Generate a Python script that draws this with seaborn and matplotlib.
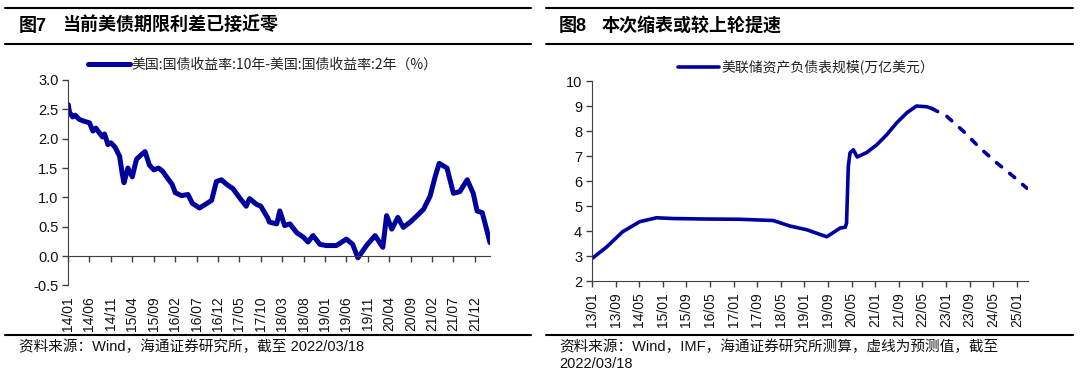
import pandas as pd
import matplotlib
matplotlib.use("Agg")
import matplotlib.pyplot as plt
import matplotlib.ticker as mticker
from matplotlib.lines import Line2D
import seaborn as sns

# ---- data ----

# Fig 7: US 10y - 2y treasury spread (%)
spread_dates = [
    "2014-01-01", "2014-01-10", "2014-02-01", "2014-02-20", "2014-03-19", "2014-04-20",
    "2014-06-01", "2014-06-25", "2014-07-16", "2014-08-10", "2014-09-01",
    "2014-09-16", "2014-10-10", "2014-11-01", "2014-12-01", "2015-01-01", "2015-01-20",
    "2015-02-01", "2015-03-01",
    "2015-04-01", "2015-05-01", "2015-06-01", "2015-07-01", "2015-08-01", "2015-09-01",
    "2015-10-05", "2015-11-01", "2015-12-16", "2016-01-10", "2016-02-01", "2016-03-16",
    "2016-05-01", "2016-06-01",
    "2016-07-22", "2016-09-01", "2016-10-16", "2016-11-19", "2016-12-25", "2017-02-01",
    "2017-03-16", "2017-05-01", "2017-06-19", "2017-07-13", "2017-09-01", "2017-10-01",
    "2017-11-19", "2017-12-01", "2018-01-22", "2018-02-13", "2018-03-19", "2018-04-25",
    "2018-06-13", "2018-08-01", "2018-09-01", "2018-10-07", "2018-11-25", "2019-01-10",
    "2019-03-22", "2019-06-01", "2019-07-16", "2019-08-22", "2019-10-22", "2019-12-22",
    "2020-02-15", "2020-03-13", "2020-04-19", "2020-06-01", "2020-07-10", "2020-08-28",
    "2020-10-16", "2020-12-01", "2021-01-16", "2021-02-22", "2021-03-22", "2021-05-16",
    "2021-07-01", "2021-08-16", "2021-10-07", "2021-11-19", "2021-12-16", "2022-01-22",
    "2022-02-28", "2022-03-18",
]
spread_values = [
    2.58, 2.45, 2.37, 2.40, 2.33, 2.30,
    2.27, 2.13, 2.18, 2.10, 2.03,
    2.08, 1.90, 1.93, 1.85, 1.70, 1.40,
    1.25, 1.50,
    1.35, 1.65, 1.72, 1.78, 1.55, 1.47,
    1.50, 1.45, 1.30, 1.22, 1.08, 1.03,
    1.05, 0.90,
    0.82, 0.88, 0.95, 1.27, 1.30, 1.22,
    1.15, 1.00, 0.85, 0.98, 0.88, 0.85,
    0.65, 0.58, 0.55, 0.77, 0.52, 0.55,
    0.40, 0.32, 0.24, 0.35, 0.20, 0.18,
    0.18, 0.29, 0.20, -0.03, 0.18, 0.35,
    0.15, 0.69, 0.46, 0.66, 0.49, 0.58,
    0.69, 0.80, 1.02, 1.36, 1.58, 1.50,
    1.07, 1.10, 1.30, 1.07, 0.77, 0.74,
    0.40, 0.23,
]
spread_ticks = ["14/01", "14/06", "14/11", "15/04", "15/09", "16/02", "16/07", "16/12",
                "17/05", "17/10", "18/03", "18/08", "19/01", "19/06", "19/11", "20/04",
                "20/09", "21/02", "21/07", "21/12"]

# Fig 8: Fed balance sheet (trillion USD), actual + forecast
fed_dates = [
    "2013-01-01", "2013-06-01", "2013-11-13", "2014-05-07", "2014-10-28", "2015-04-13",
    "2016-03-19", "2017-03-07", "2018-02-13", "2018-08-04", "2019-01-25", "2019-08-19",
    "2019-10-10", "2020-01-04", "2020-02-25", "2020-03-10", "2020-03-28", "2020-04-15",
    "2020-05-19", "2020-06-28", "2020-10-04", "2021-01-16", "2021-04-28", "2021-08-10",
    "2021-11-22", "2022-03-01", "2022-06-16", "2022-08-07",
]
fed_values = [
    2.90, 3.36, 3.97, 4.37, 4.53, 4.50,
    4.48, 4.47, 4.42, 4.20, 4.05, 3.77,
    3.90, 4.12, 4.15, 4.31, 6.58, 7.13,
    7.25, 6.96, 7.14, 7.45, 7.85, 8.33,
    8.73, 9.00, 8.97, 8.90,
]
fcst_dates = ["2022-08-07", "2023-01-07", "2023-06-28", "2023-12-16", "2024-06-07",
              "2024-11-25", "2025-04-13"]
fcst_values = [8.90, 8.59, 7.99, 7.32, 6.72, 6.18, 5.71]
fed_ticks = ["13/01", "13/09", "14/05", "15/01", "15/09", "16/05", "17/01", "17/09",
             "18/05", "19/01", "19/09", "20/05", "21/01", "21/09", "22/05", "23/01",
             "23/09", "24/05", "25/01"]

NAVY = "#00009C"
AXC = "#404040"

sns.set_style("ticks")
plt.rcParams["font.family"] = ["Liberation Sans", "Noto Sans CJK SC"]
plt.rcParams["axes.edgecolor"] = AXC
plt.rcParams["xtick.color"] = AXC
plt.rcParams["ytick.color"] = AXC
plt.rcParams["xtick.labelcolor"] = "#111111"
plt.rcParams["ytick.labelcolor"] = "#111111"

fig = plt.figure(figsize=(10.8, 3.73), dpi=100)

def to_dt(labels):
    return pd.to_datetime(["20" + s for s in labels], format="%Y/%m")

# ---- left chart ----
ax1 = fig.add_axes([0.0632, 0.2346, 0.3905, 0.551])
sns.lineplot(x=pd.to_datetime(spread_dates), y=spread_values, ax=ax1, color=NAVY,
             lw=3.6, label="美国:国债收益率:10年-美国:国债收益率:2年（%）")
# x axis line sits on y=0 (set before the tick labels, it resets the ticks)
ax1.spines["bottom"].set_position(("data", 0))
ax1.spines["top"].set_visible(False)
ax1.spines["right"].set_visible(False)
ax1.set_ylim(-0.5, 3.0)
ax1.set_xlim(pd.Timestamp("2014-01-01"), pd.Timestamp("2022-03-18"))
ax1.yaxis.set_major_locator(mticker.MultipleLocator(0.5))
ax1.yaxis.set_major_formatter(mticker.FormatStrFormatter("%.1f"))
ax1.set_xticks(to_dt(spread_ticks))
ax1.set_xticklabels(spread_ticks, rotation=90)
ax1.tick_params(axis="x", direction="out", length=4, width=1, pad=25, labelsize=10)
ax1.tick_params(axis="y", direction="out", length=4, width=1, pad=3, labelsize=10.5)
ax1.set_xlabel("")
ax1.set_ylabel("")
ax1.legend(loc="center", bbox_to_anchor=(263 / 1080, 0.826), bbox_transform=fig.transFigure,
           frameon=False, handlelength=3.0, handletextpad=0.15,
           labelcolor="#222222", prop={"family": ["Noto Sans CJK SC"], "size": 10})

# ---- right chart ----
ax2 = fig.add_axes([0.5481, 0.2466, 0.4034, 0.5362])
sns.lineplot(x=pd.to_datetime(fed_dates), y=fed_values, ax=ax2, color=NAVY, lw=2.6,
             label="美联储资产负债表规模(万亿美元）")
sns.lineplot(x=pd.to_datetime(fcst_dates), y=fcst_values, ax=ax2, color=NAVY, lw=2.6,
             legend=False)
ax2.lines[-1].set_dashes([1.8, 2.9])
ax2.lines[-1].set_dash_capstyle("round")
ax2.set_ylim(2, 10)
ax2.set_xlim(pd.Timestamp("2013-01-01"), pd.Timestamp("2025-04-20"))
ax2.yaxis.set_major_locator(mticker.MultipleLocator(1))
ax2.set_xticks(to_dt(fed_ticks))
ax2.set_xticklabels(fed_ticks, rotation=90)
ax2.spines["top"].set_visible(False)
ax2.spines["right"].set_visible(False)
ax2.tick_params(axis="x", direction="out", length=4, width=1, pad=4, labelsize=10)
ax2.tick_params(axis="y", direction="out", length=4, width=1, pad=3, labelsize=10.5)
ax2.set_xlabel("")
ax2.set_ylabel("")
ax2.legend(loc="center", bbox_to_anchor=(806 / 1080, 0.820), bbox_transform=fig.transFigure,
           frameon=False, handlelength=3.0, handletextpad=0.15,
           labelcolor="#222222", prop={"family": ["Noto Sans CJK SC"], "size": 10})

# ---- header / footer rules and texts ----
for x0, x1 in [(0.0046, 0.4917), (0.5056, 0.9935)]:
    for yy in (0.9796, 0.882, 0.1032):
        fig.add_artist(Line2D([x0, x1], [yy, yy], transform=fig.transFigure,
                              color="black", lw=1.5))

title_kw = dict(fontsize=13, fontweight="bold", va="center", color="black")
fig.text(19 / 1080, 0.930, "图7", **title_kw)
fig.text(62 / 1080, 0.930, "当前美债期限利差已接近零", **title_kw)
fig.text(559 / 1080, 0.930, "图8", **title_kw)
fig.text(602 / 1080, 0.930, "本次缩表或较上轮提速", **title_kw)

src_kw = dict(fontsize=10.5, va="center", color="#111111")
fig.text(19 / 1080, 0.0697, "资料来源：Wind，海通证券研究所，截至 2022/03/18", **src_kw)
fig.text(559 / 1080, 0.0697, "资料来源：Wind，IMF，海通证券研究所测算，虚线为预测值，截至", **src_kw)
fig.text(559 / 1080, 0.0241, "2022/03/18", **src_kw)

fig.savefig("out.png", dpi=100)
